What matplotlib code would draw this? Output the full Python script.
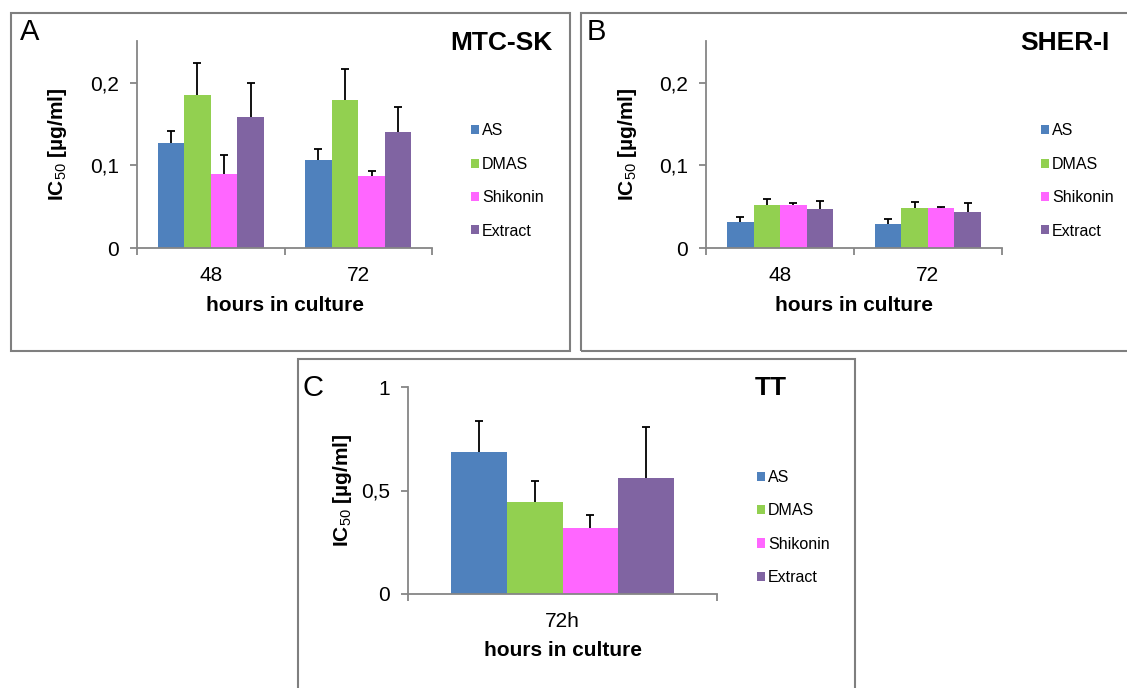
import numpy as np
import matplotlib
matplotlib.use("Agg")
from matplotlib import pyplot as plt
from matplotlib.patches import Rectangle

plt.rcParams['font.family'] = ['Liberation Sans', 'DejaVu Sans']
plt.rcParams['mathtext.fontset'] = 'custom'
plt.rcParams['mathtext.rm'] = 'Liberation Sans'
plt.rcParams['mathtext.bf'] = 'Liberation Sans:bold'

# ---------------------------------------------------------------------------
# data (IC50 in ug/ml, error = upper SD)
# ---------------------------------------------------------------------------
series = ['AS', 'DMAS', 'Shikonin', 'Extract']
colors = ['#4F81BD', '#92D050', '#FF66FF', '#8064A2']

hours_ab = ['48', '72']
hours_c = ['72h']

# MTC-SK, rows = series, columns = hours
mtc_values = [[0.127, 0.106],
              [0.185, 0.179],
              [0.089, 0.087],
              [0.159, 0.140]]
mtc_errors = [[0.014, 0.014],
              [0.039, 0.038],
              [0.024, 0.006],
              [0.041, 0.030]]

# SHER-I
sher_values = [[0.031, 0.029],
               [0.052, 0.048],
               [0.052, 0.048],
               [0.047, 0.044]]
sher_errors = [[0.006, 0.006],
               [0.007, 0.008],
               [0.003, 0.002],
               [0.010, 0.010]]

# TT
tt_values = [[0.687], [0.446], [0.318], [0.561]]
tt_errors = [[0.150], [0.102], [0.063], [0.248]]

W, H = 1127, 688
fig = plt.figure(figsize=(W / 100, H / 100), dpi=100)
fig.patch.set_facecolor('white')

GRAY = '#868686'


def px_axes(left, top, right, bottom):
    # pixel box (origin top-left) -> axes in figure fraction
    return fig.add_axes([left / W, 1 - bottom / H, (right - left) / W, (bottom - top) / H])


def frame(left, top, right, bottom):
    fig.patches.append(Rectangle((left / W, 1 - bottom / H), (right - left) / W,
                                 (bottom - top) / H, transform=fig.transFigure,
                                 fill=False, edgecolor='#7F7F7F', linewidth=1.5))


def ftext(x, y, s, **kw):
    fig.text(x / W, 1 - y / H, s, **kw)


def panel(ax, cats, values, errors, ylim, yticks, yticklabels, ylab_x, xlab_y, leg_x, leg_y):
    n = len(cats)
    x = np.arange(n)
    bw = 0.18
    for i, name in enumerate(series):
        pos = x + (i - 1.5) * bw
        ax.bar(pos, values[i], width=bw, color=colors[i], label=name, zorder=2)
        eb = ax.errorbar(pos, values[i], yerr=[np.zeros(n), errors[i]], fmt='none',
                         ecolor='black', elinewidth=1.3, capsize=3.2, capthick=1.3, zorder=3)
        eb[1][0].set_visible(False)  # no cap at the bar top
    ax.set_xlim(-0.5, n - 0.5)
    ax.set_ylim(*ylim)
    ax.set_yticks(yticks)
    ax.set_yticklabels(yticklabels)
    ax.set_xticks(np.arange(-0.5, n, 1.0))
    ax.set_xticklabels([''] * (n + 1))
    ax.set_xticks(x, minor=True)
    ax.set_xticklabels(cats, minor=True)
    ax.tick_params(axis='x', which='major', direction='out', length=5, width=1.3, color=GRAY)
    ax.tick_params(axis='x', which='minor', length=0, pad=13, labelsize=15)
    ax.tick_params(axis='y', direction='out', length=5, width=1.3, color=GRAY, pad=8, labelsize=15)
    for s in ['top', 'right']:
        ax.spines[s].set_visible(False)
    for s in ['left', 'bottom']:
        ax.spines[s].set_color(GRAY)
        ax.spines[s].set_linewidth(1.3)
    ax.set_ylabel(r'IC$_{50}$ [µg/ml]', fontsize=15, fontweight='bold')
    ax.yaxis.label.set_va('center')
    ax.yaxis.set_label_coords(ylab_x, 0.5)
    ax.set_xlabel('hours in culture', fontsize=15, fontweight='bold')
    ax.xaxis.label.set_va('center')
    ax.xaxis.set_label_coords(0.5, xlab_y)
    ax.legend(loc='center left', bbox_to_anchor=(leg_x / W, 1 - leg_y / H),
              bbox_transform=fig.transFigure, frameon=False, fontsize=11.5,
              handlelength=0.5, handleheight=0.5, handletextpad=0.2,
              labelspacing=1.15, borderpad=0, borderaxespad=0)


# panel frames
frame(11, 13, 570, 351)
frame(581, 13, 1140, 351)
frame(298, 359, 855, 700)

# A: MTC-SK
axA = px_axes(137, 41.3, 432, 248)
panel(axA, hours_ab, mtc_values, mtc_errors, (0, 0.25), [0, 0.1, 0.2],
      ['0', '0,1', '0,2'], -0.268, -0.276, 471, 181)

# B: SHER-I
axB = px_axes(706.3, 41.3, 1001.7, 248)
panel(axB, hours_ab, sher_values, sher_errors, (0, 0.25), [0, 0.1, 0.2],
      ['0', '0,1', '0,2'], -0.268, -0.276, 1041, 181)

# C: TT
axC = px_axes(408.3, 387.3, 716.7, 593.7)
panel(axC, hours_c, tt_values, tt_errors, (0, 1), [0, 0.5, 1],
      ['0', '0,5', '1'], -0.212, -0.273, 756.7, 527.5)

# panel letters and cell line names
ftext(20, 32, 'A', fontsize=21, ha='left', va='center')
ftext(587, 32, 'B', fontsize=21, ha='left', va='center')
ftext(302, 388, 'C', fontsize=21, ha='left', va='center')
ftext(553, 42.5, 'MTC-SK', fontsize=19, fontweight='bold', ha='right', va='center')
ftext(1109, 42.5, 'SHER-I', fontsize=19, fontweight='bold', ha='right', va='center')
ftext(787, 388, 'TT', fontsize=19, fontweight='bold', ha='right', va='center')

plt.savefig('out.png', dpi=100, facecolor='white')
